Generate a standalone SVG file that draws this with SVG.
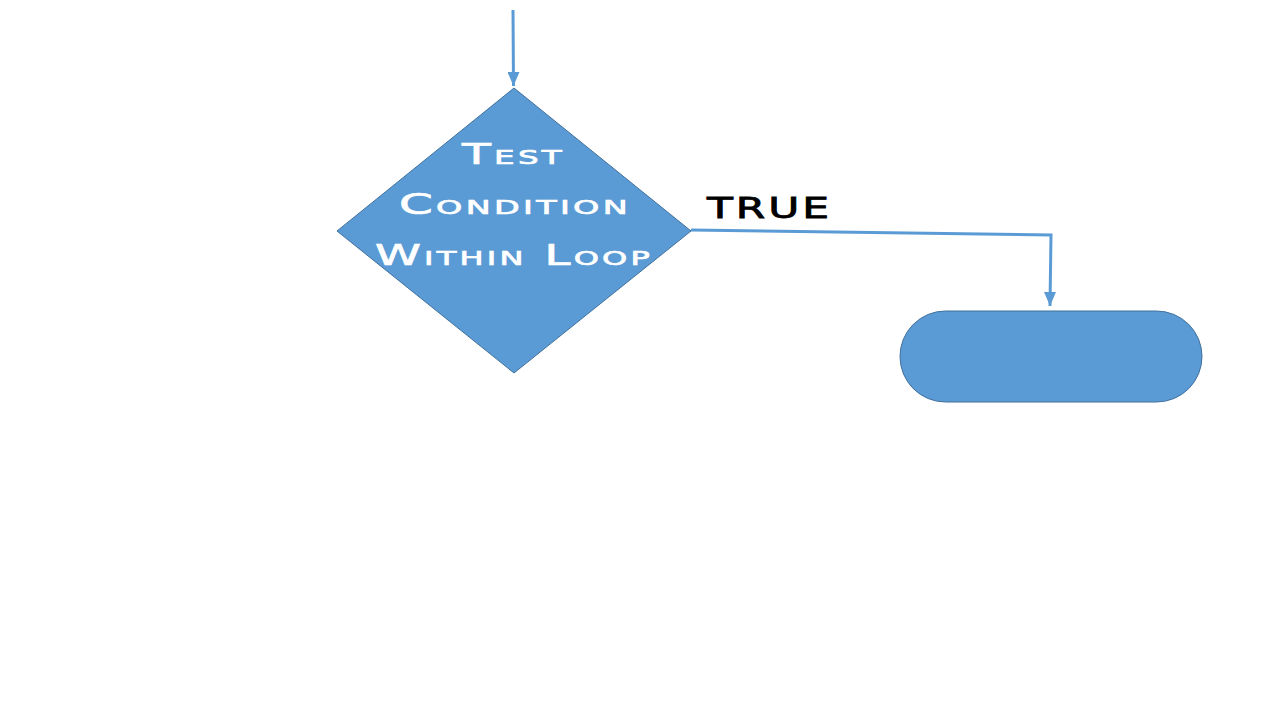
<svg xmlns="http://www.w3.org/2000/svg" width="1280" height="720" viewBox="0 0 1280 720">
<defs>
<style>
.shape{fill:#5B9BD5;stroke:#41719C;stroke-width:1}
.conn{fill:none;stroke:#5B9BD5;stroke-width:3}
.lbl{font-family:"DejaVu Sans","Liberation Sans",sans-serif;font-weight:normal;font-size:29px;font-variant:small-caps;letter-spacing:2px}
.w{fill:#FFFFFF;stroke:#FFFFFF;stroke-width:0.7}
.k{fill:#000000;stroke:#000000;stroke-width:0.8}
</style>
<marker id="arr" markerWidth="12" markerHeight="14" refX="6" refY="14" orient="0" markerUnits="userSpaceOnUse" viewBox="0 0 12 14">
<path d="M0,0 L12,0 L6,14 Z" fill="#5B9BD5"/>
</marker>
</defs>
<rect width="1280" height="720" fill="#FFFFFF"/>
<g id="connectors">
<path class="conn" d="M513,10 L513.5,86" marker-end="url(#arr)"/>
<path class="conn" d="M691,230 L1051,235 L1050,306" marker-end="url(#arr)"/>
<text class="lbl k" x="707" y="218" textLength="125" lengthAdjust="spacingAndGlyphs">TRUE</text>
</g>
<g id="decision">
<polygon class="shape" points="514,88 691,231 514,373 337,231"/>
<text class="lbl w" x="462" y="164" textLength="103" lengthAdjust="spacingAndGlyphs">Test</text>
<text class="lbl w" x="399" y="214" textLength="232" lengthAdjust="spacingAndGlyphs">Condition</text>
<text class="lbl w" x="375" y="265" textLength="278" lengthAdjust="spacingAndGlyphs">Within Loop</text>
</g>
<g id="terminal">
<rect class="shape" x="900" y="311" width="302" height="91" rx="45.5" ry="45.5"/>
</g>
</svg>
